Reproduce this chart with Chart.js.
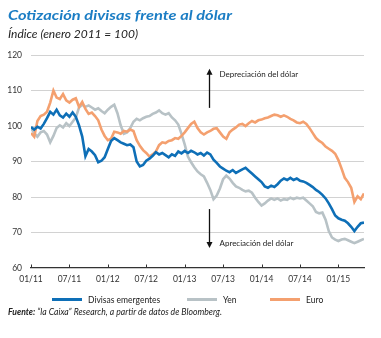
<!DOCTYPE html>
<html lang="es">
<head>
<meta charset="UTF-8">
<title>Cotización divisas frente al dólar</title>
<script src="https://cdn.jsdelivr.net/npm/chart.js@4.4.1/dist/chart.umd.min.js"></script>
<style>
    body { margin: 0; background: #fff; }
    .wrap { position: relative; width: 381px; height: 338px; overflow: hidden; font-family: Lato, "Open Sans", sans-serif; color: #222; }
    canvas { position: absolute; left: 0; top: 0; }
    .txt { position: absolute; white-space: nowrap; transform-origin: left center; }
    .title { left: 8px; top: 6px; font-size: 14px; line-height: 18px; font-weight: bold; font-style: italic; color: #1b7dc4; }
    .subtitle { left: 8px; top: 27px; font-size: 11px; line-height: 13px; font-style: italic; }
    .legend { top: 294px; font-size: 8.5px; line-height: 12px; }
    .legend span { display: inline-block; width: 30px; height: 3px; vertical-align: middle; margin-right: 6px; position: relative; top: -1px; }
    .source { left: 8px; top: 306px; font-size: 9px; line-height: 12px; font-style: italic; }
</style>
</head>
<body>
<div class="wrap">
    <canvas id="myChart" width="381" height="338"></canvas>
    <div class="txt title" data-w="224">Cotización divisas frente al dólar</div>
    <div class="txt subtitle" data-w="130">Índice (enero 2011 = 100)</div>
    <div class="txt legend" style="left:52px"><span style="background:#0e6fb7"></span>Divisas emergentes</div>
    <div class="txt legend" style="left:187px"><span style="background:#b8c2c6"></span>Yen</div>
    <div class="txt legend" style="left:270px"><span style="background:#f4a06f"></span>Euro</div>
    <div class="txt source" data-w="214"><b>Fuente:</b> “la Caixa” Research, a partir de datos de Bloomberg.</div>
</div>

<script>
    // x tick labels (one every 6 months, starting January 2011)
    var xLabels = ["01/11", "07/11", "01/12", "07/12", "01/13", "07/13", "01/14", "07/14", "01/15"];

    // half-month samples, months since January 2011
    var months = [];
    for (var i = 0; i <= 104; i++) months.push(i / 2);

    var emergentes = [
        99.7, 99.0, 99.8, 99.3, 100.6, 102.2, 104.0, 103.2, 104.6, 103.0,
        102.4, 103.5, 102.6, 103.8, 102.6, 100.2, 97.0, 91.5, 93.5, 92.8,
        91.8, 89.8, 90.2, 91.2, 93.5, 95.8, 96.6, 96.0, 95.4, 95.0,
        94.6, 94.8, 94.0, 90.0, 88.6, 89.0, 90.2, 90.8, 91.6, 92.6,
        92.0, 92.4, 91.8, 91.2, 92.0, 91.6, 92.8, 92.3, 93.0, 92.4,
        93.0, 92.6, 92.0, 92.4, 91.7, 92.5, 92.0, 90.5, 89.6, 88.6,
        88.0, 87.4, 87.0, 87.6, 86.8, 87.3, 87.8, 88.2, 87.4, 86.6,
        85.8, 85.0, 84.2, 83.0, 82.6, 83.2, 82.8, 83.6, 84.6, 85.2,
        84.8, 85.4, 84.8, 85.2, 84.6, 84.4, 84.0, 83.4, 82.8, 82.0,
        81.4, 80.6, 79.6, 78.2, 76.6, 74.8, 74.0, 73.6, 73.3, 72.6,
        71.6, 70.4, 71.6, 72.6, 72.8
    ];

    var yen = [
        99.4, 98.0, 97.0, 98.2, 98.6, 97.6, 95.4, 97.2, 99.4, 100.2,
        99.6, 100.8, 100.0, 101.2, 102.4, 105.2, 106.0, 105.4, 105.8, 105.2,
        104.6, 105.0, 104.2, 103.6, 104.6, 105.4, 106.0, 103.6, 100.2, 97.8,
        98.2, 99.4, 101.2, 102.0, 101.6, 102.2, 102.6, 102.8, 103.4, 103.8,
        104.4, 103.6, 103.2, 103.6, 102.4, 101.6, 100.4, 97.8, 94.8, 91.4,
        89.8, 88.4, 87.2, 86.4, 85.8, 84.0, 82.0, 79.4, 80.4, 82.4,
        85.0, 86.0, 85.2, 84.0, 83.0, 82.6, 82.0, 81.6, 81.8, 81.2,
        79.8, 78.6, 77.6, 78.2, 79.0, 79.6, 79.2, 79.6, 79.0, 79.4,
        79.2, 79.8, 79.4, 79.8, 79.6, 79.8, 79.0, 78.2, 77.4, 75.8,
        75.4, 75.6, 73.6, 70.4, 68.6, 68.0, 67.6, 68.0, 68.2, 67.8,
        67.4, 67.0, 67.4, 67.8, 68.2
    ];

    var euro = [
        98.0, 97.0, 101.4, 102.8, 103.2, 104.0, 106.6, 110.0, 108.0, 107.6,
        109.0, 107.2, 106.6, 107.4, 107.8, 105.4, 106.8, 104.8, 103.4, 103.8,
        102.8, 101.6, 99.0, 97.2, 96.0, 96.4, 98.4, 98.2, 97.8, 98.6,
        98.4, 99.0, 98.6, 96.0, 94.4, 93.2, 92.4, 91.4, 92.0, 92.8,
        94.6, 95.4, 95.2, 95.8, 96.0, 96.6, 96.4, 97.2, 98.2, 99.4,
        100.6, 101.2, 99.4, 98.2, 97.6, 98.2, 98.6, 99.2, 99.4, 98.2,
        97.0, 96.4, 98.2, 99.0, 99.6, 100.4, 100.6, 100.0, 100.8, 101.4,
        101.0, 101.6, 101.8, 102.2, 102.4, 102.8, 103.2, 103.0, 102.6, 103.0,
        102.6, 102.0, 101.6, 101.0, 100.8, 101.2, 100.6, 99.4, 98.0, 96.6,
        95.8, 95.2, 94.2, 93.6, 93.0, 92.2, 90.4, 88.0, 85.4, 84.2,
        82.6, 78.6, 80.2, 79.4, 81.0
    ];

    function toPoints(values) {
        return values.map(function (v, i) { return { x: months[i], y: v }; });
    }

    // small upward tick marks on the x axis + arrows with notes
    var extras = {
        id: 'extras',
        afterDraw: function (chart) {
            var ctx = chart.ctx;
            var xs = chart.scales.x, ys = chart.scales.y;
            var base = ys.getPixelForValue(60);
            ctx.save();
            ctx.strokeStyle = '#333';
            ctx.lineWidth = 1;
            xs.ticks.forEach(function (t) {
                var px = Math.round(xs.getPixelForValue(t.value)) + 0.5;
                ctx.beginPath();
                ctx.moveTo(px, base);
                ctx.lineTo(px, base - 3.5);
                ctx.stroke();
            });

            var ax = Math.round(xs.getPixelForValue(27.8)) + 0.5;
            function arrow(from, to) {
                var y0 = ys.getPixelForValue(from), y1 = ys.getPixelForValue(to);
                var dir = y1 < y0 ? 1 : -1;
                ctx.strokeStyle = '#111';
                ctx.fillStyle = '#111';
                ctx.lineWidth = 1.3;
                ctx.beginPath();
                ctx.moveTo(ax, y0);
                ctx.lineTo(ax, y1 + dir * 5);
                ctx.stroke();
                ctx.beginPath();
                ctx.moveTo(ax, y1);
                ctx.lineTo(ax - 3, y1 + dir * 6);
                ctx.lineTo(ax + 3, y1 + dir * 6);
                ctx.closePath();
                ctx.fill();
            }
            arrow(105.1, 116.1);
            arrow(76.6, 65.6);

            ctx.font = '8px Lato';
            ctx.fillStyle = '#222';
            ctx.textBaseline = 'middle';
            ctx.fillText('Depreciación del dólar', ax + 10, ys.getPixelForValue(114.4));
            ctx.fillText('Apreciación del dólar', ax + 10, ys.getPixelForValue(66.9));
            ctx.restore();
        }
    };

    var myChart = new Chart("myChart", {
        type: "line",
        data: {
            datasets: [{
                label: "Divisas emergentes",
                data: toPoints(emergentes),
                borderColor: "#0e6fb7",
                order: 1
            }, {
                label: "Yen",
                data: toPoints(yen),
                borderColor: "#b8c2c6",
                order: 3
            }, {
                label: "Euro",
                data: toPoints(euro),
                borderColor: "#f4a06f",
                order: 2
            }]
        },
        options: {
            responsive: false,
            animation: false,
            devicePixelRatio: 1,
            layout: { padding: { top: 55, right: 17, left: 0, bottom: 50 } },
            elements: {
                point: { radius: 0 },
                line: { borderWidth: 2.6, tension: 0 }
            },
            plugins: {
                legend: { display: false },
                title: { display: false },
                tooltip: { enabled: false }
            },
            scales: {
                x: {
                    type: 'linear',
                    min: 0,
                    max: 52,
                    afterFit: function (s) { s.height = 20; },
                    grid: { drawOnChartArea: false, drawTicks: false },
                    border: { color: '#333', width: 1.2 },
                    ticks: {
                        stepSize: 6,
                        includeBounds: false,
                        padding: 6,
                        color: '#333',
                        font: { family: 'Lato', size: 8.5 },
                        maxRotation: 0,
                        callback: function (v) { return xLabels[v / 6]; }
                    }
                },
                y: {
                    min: 60,
                    max: 120,
                    afterFit: function (s) { s.width = 31; },
                    border: { display: false },
                    grid: {
                        drawTicks: false,
                        color: function (c) { return c.tick && c.tick.value === 60 ? 'rgba(0,0,0,0)' : '#d2d2d2'; }
                    },
                    ticks: {
                        stepSize: 10,
                        padding: 9,
                        color: '#333',
                        font: { family: 'Lato', size: 8.5 }
                    }
                }
            }
        },
        plugins: [extras]
    });

    // squeeze the condensed-looking texts to their widths in the original
    document.querySelectorAll('[data-w]').forEach(function (el) {
        var w = el.getBoundingClientRect().width;
        el.style.transform = 'scaleX(' + (parseFloat(el.dataset.w) / w) + ')';
    });
</script>
</body>
</html>
